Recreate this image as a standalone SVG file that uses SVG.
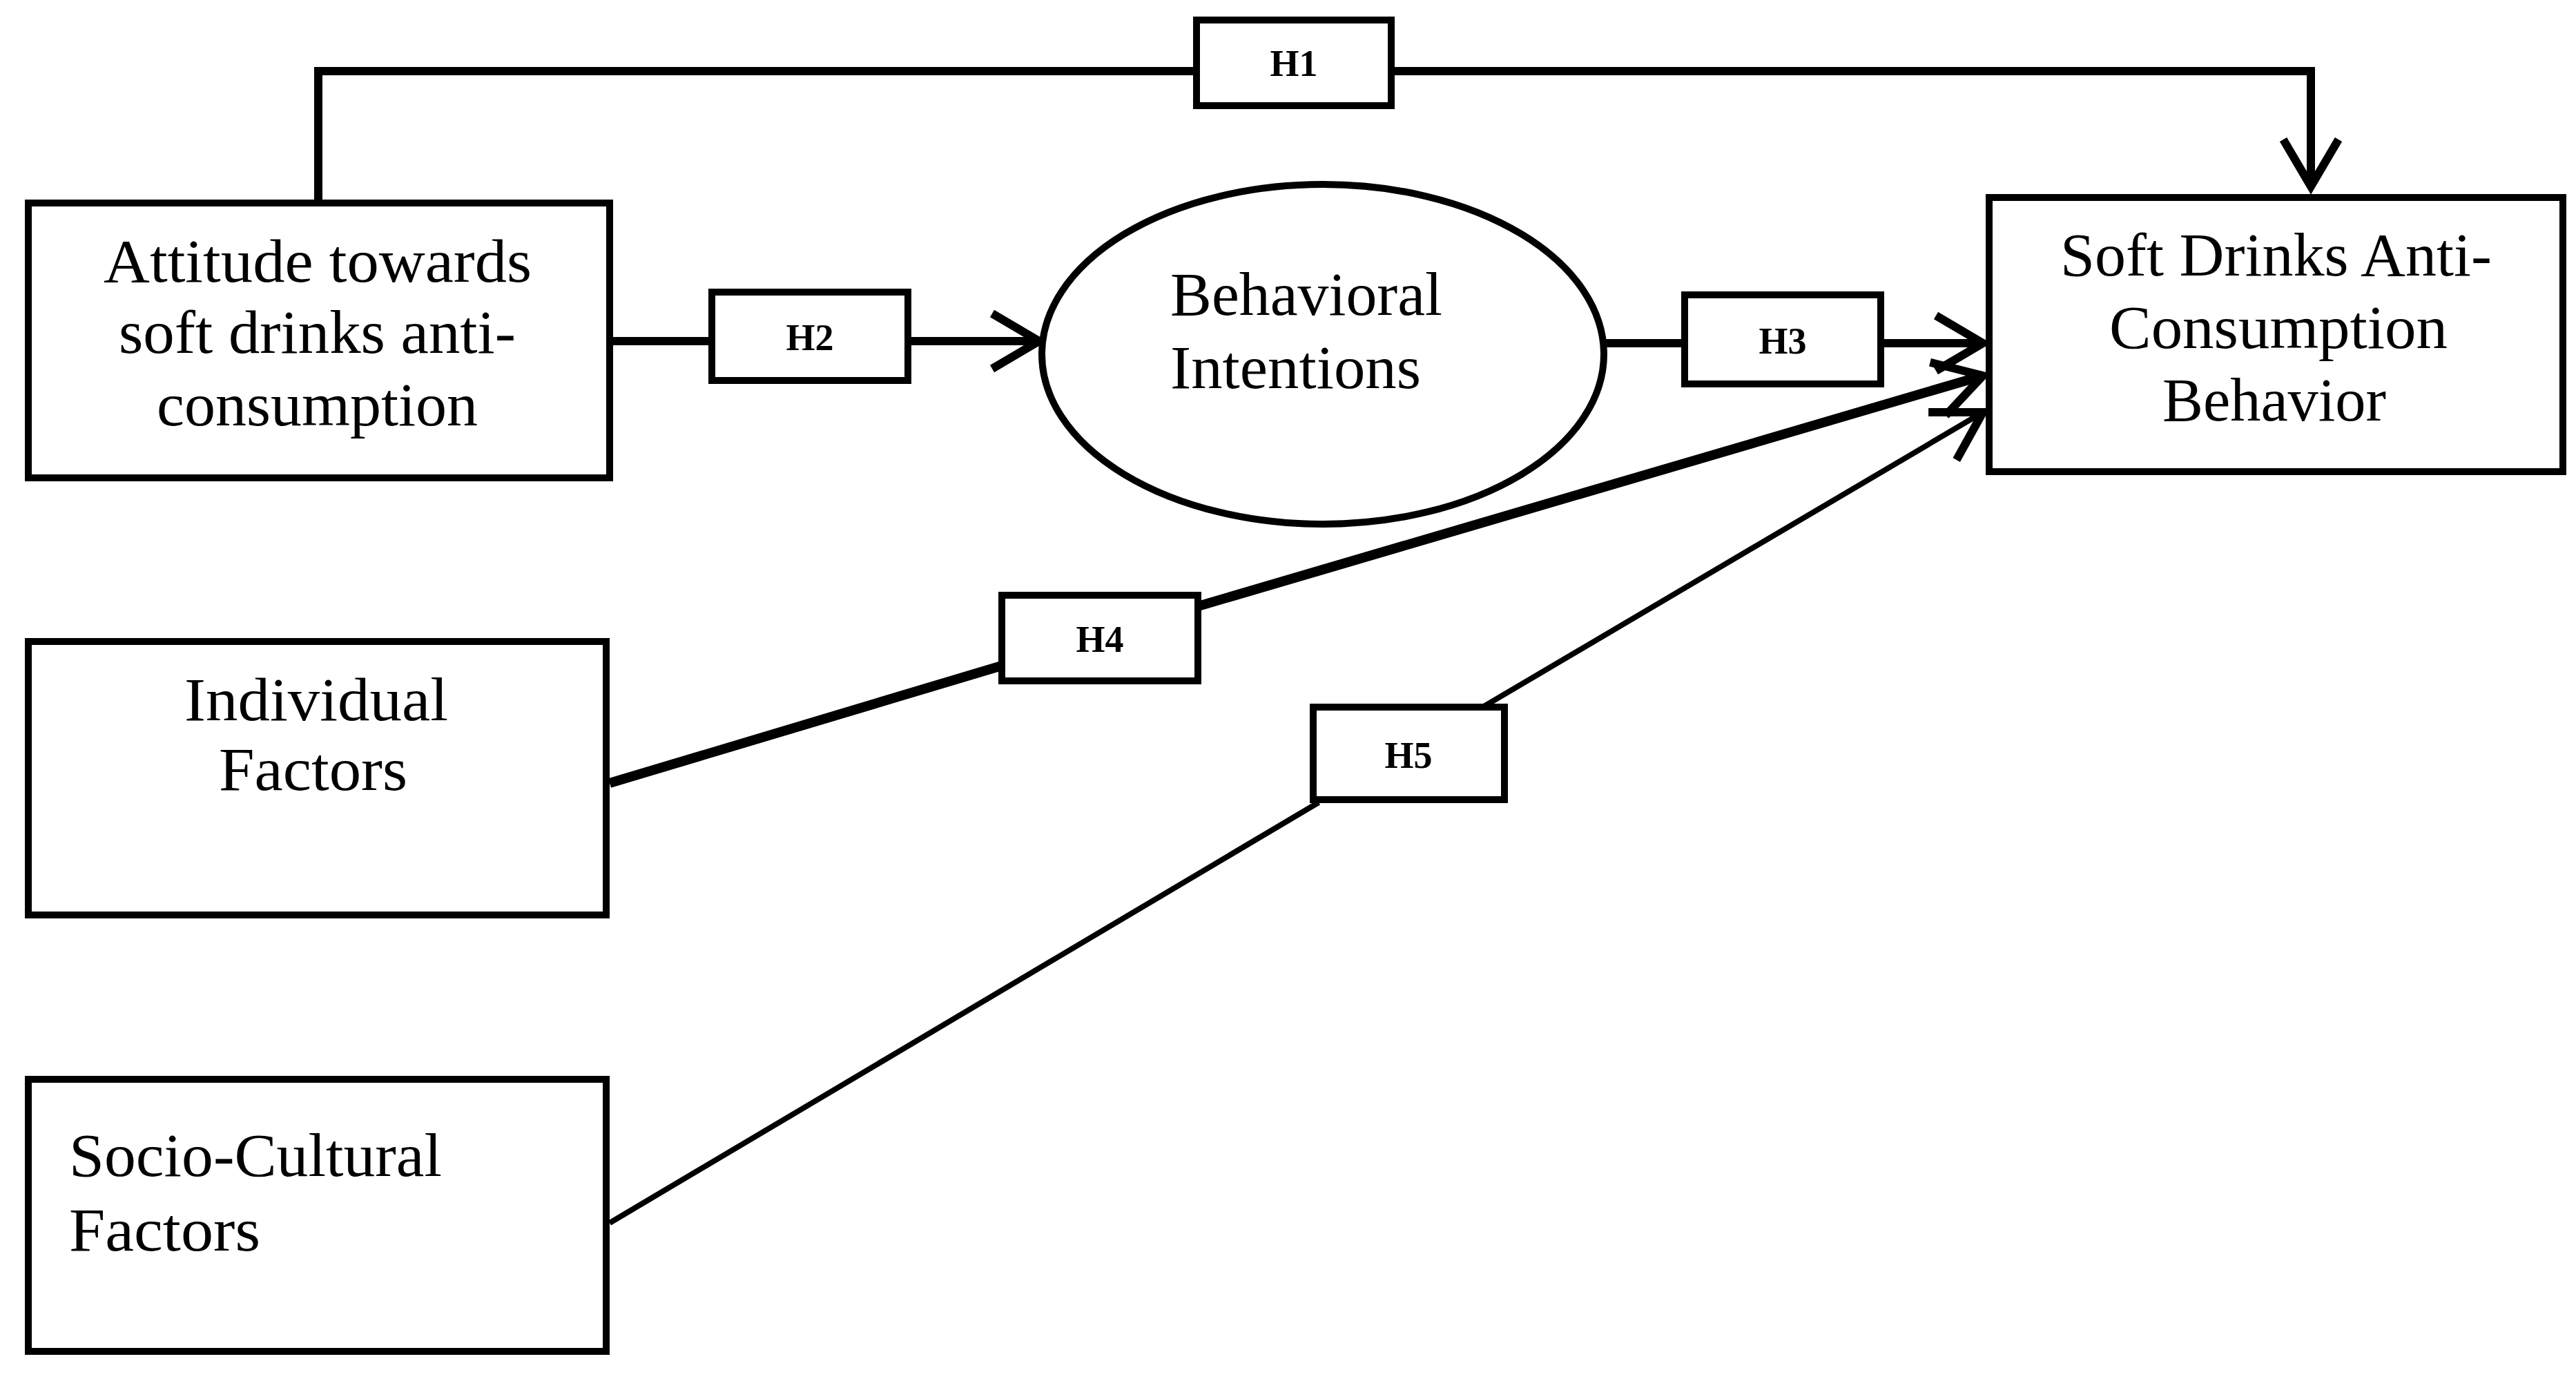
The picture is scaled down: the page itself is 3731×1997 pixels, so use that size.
<svg xmlns="http://www.w3.org/2000/svg" width="3731" height="1997" viewBox="0 0 3731 1997">
<style>
.b{fill:#fff;stroke:#000;stroke-width:10}
.t{font-family:"Liberation Serif",serif;font-size:88px;fill:#000}
.h{font-family:"Liberation Serif",serif;font-size:54px;font-weight:bold;fill:#000;text-anchor:middle}
.c{fill:none;stroke:#000}
</style>
<defs>
<marker id="a" viewBox="0 0 20 20" refX="18" refY="10" markerWidth="20" markerHeight="20" markerUnits="userSpaceOnUse" orient="auto" overflow="visible">
<path d="M-50,-30 L18,10 L-50,50" fill="none" stroke="#000" stroke-width="12"/>
</marker>
</defs>
<g id="connectors">
<path class="c" stroke-width="12" d="M461,294 V103 H3347 V270" marker-end="url(#a)"/>
<path class="c" stroke-width="12" d="M883,494 H1505" marker-end="url(#a)"/>
<path class="c" stroke-width="12" d="M2323,497 H2872" marker-end="url(#a)"/>
<path class="c" stroke-width="14" d="M883,1134 L1451,964"/>
<path class="c" stroke-width="14" d="M1735,878 L2872,544" marker-end="url(#a)"/>
<path class="c" stroke-width="8" d="M883,1771 L1910,1162"/>
<path class="c" stroke-width="8" d="M2144,1026 L2872,597" marker-end="url(#a)"/>
</g>
<g id="H1"><rect class="b" x="1733" y="29" width="282" height="124"/><text class="h" x="1874" y="110">H1</text></g>
<g id="H2"><rect class="b" x="1031" y="423" width="284" height="128"/><text class="h" x="1173" y="507">H2</text></g>
<g id="H3"><rect class="b" x="2440" y="427" width="284" height="129"/><text class="h" x="2582" y="512">H3</text></g>
<g id="H4"><rect class="b" x="1451" y="862" width="284" height="124"/><text class="h" x="1593" y="944">H4</text></g>
<g id="H5"><rect class="b" x="1902" y="1024" width="277" height="134"/><text class="h" x="2040" y="1112">H5</text></g>
<g id="attitude"><rect class="b" x="41" y="294" width="842" height="398"/>
<text class="t" x="150" y="408" textLength="620" lengthAdjust="spacingAndGlyphs">Attitude towards</text>
<text class="t" x="172" y="511" textLength="575" lengthAdjust="spacingAndGlyphs">soft drinks anti-</text>
<text class="t" x="227" y="616" textLength="465" lengthAdjust="spacingAndGlyphs">consumption</text></g>
<g id="intentions"><ellipse class="b" cx="1916" cy="513" rx="407" ry="246"/>
<text class="t" x="1695" y="456" textLength="394" lengthAdjust="spacingAndGlyphs">Behavioral</text>
<text class="t" x="1695" y="562" textLength="363" lengthAdjust="spacingAndGlyphs">Intentions</text></g>
<g id="behavior"><rect class="b" x="2881" y="286" width="831" height="397"/>
<text class="t" x="2984" y="399" textLength="625" lengthAdjust="spacingAndGlyphs">Soft Drinks Anti-</text>
<text class="t" x="3055" y="504" textLength="490" lengthAdjust="spacingAndGlyphs">Consumption</text>
<text class="t" x="3132" y="609" textLength="324" lengthAdjust="spacingAndGlyphs">Behavior</text></g>
<g id="individual"><rect class="b" x="41" y="929" width="837" height="396"/>
<text class="t" x="267" y="1043" textLength="382" lengthAdjust="spacingAndGlyphs">Individual</text>
<text class="t" x="317" y="1144" textLength="273" lengthAdjust="spacingAndGlyphs">Factors</text></g>
<g id="socio"><rect class="b" x="41" y="1563" width="837" height="394"/>
<text class="t" x="100" y="1703" textLength="540" lengthAdjust="spacingAndGlyphs">Socio-Cultural</text>
<text class="t" x="100" y="1811" textLength="277" lengthAdjust="spacingAndGlyphs">Factors</text></g>
</svg>
